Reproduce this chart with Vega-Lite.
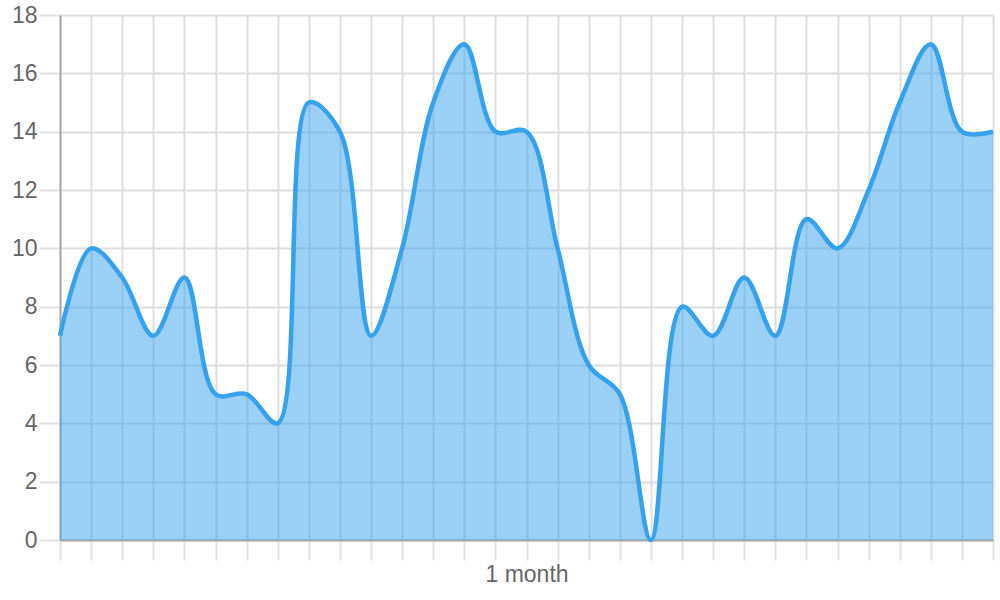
{
  "$schema": "https://vega.github.io/schema/vega-lite/v6.json",
  "width": 933,
  "height": 525,
  "autosize": {"type": "none"},
  "padding": {"left": 60, "top": 15, "right": 7, "bottom": 60},
  "background": "white",
  "config": {"view": {"stroke": null}},
  "data": {"values": [
    {"i": 0, "v": 7}, {"i": 1, "v": 10}, {"i": 2, "v": 9}, {"i": 3, "v": 7}, {"i": 4, "v": 9},
    {"i": 5, "v": 5}, {"i": 6, "v": 5}, {"i": 7, "v": 4}, {"i": 8, "v": 15}, {"i": 9, "v": 14},
    {"i": 10, "v": 7}, {"i": 11, "v": 10}, {"i": 12, "v": 15}, {"i": 13, "v": 17}, {"i": 14, "v": 14},
    {"i": 15, "v": 14}, {"i": 16, "v": 10}, {"i": 17, "v": 6}, {"i": 18, "v": 5}, {"i": 19, "v": 0},
    {"i": 20, "v": 8}, {"i": 21, "v": 7}, {"i": 22, "v": 9}, {"i": 23, "v": 7}, {"i": 24, "v": 11},
    {"i": 25, "v": 10}, {"i": 26, "v": 12}, {"i": 27, "v": 15}, {"i": 28, "v": 17}, {"i": 29, "v": 14},
    {"i": 30, "v": 14}
  ]},
  "encoding": {
    "x": {
      "field": "i", "type": "quantitative",
      "scale": {"domain": [0, 30], "nice": false, "zero": false},
      "axis": {
        "values": [0,1,2,3,4,5,6,7,8,9,10,11,12,13,14,15,16,17,18,19,20,21,22,23,24,25,26,27,28,29,30],
        "labelExpr": "datum.value == 15 ? '1 month' : ''",
        "title": null,
        "grid": true, "gridColor": "#dedede", "gridWidth": 2,
        "tickSize": 20, "tickColor": "#e2e2e2", "tickWidth": 2,
        "domainColor": "#aaaaaa", "domainWidth": 2,
        "labelFont": "Liberation Sans", "labelFontSize": 23, "labelColor": "#666666",
        "labelPadding": 3, "labelOverlap": false, "labelFlush": false
      }
    },
    "y": {
      "field": "v", "type": "quantitative",
      "scale": {"domain": [0, 18], "nice": false},
      "axis": {
        "values": [0, 2, 4, 6, 8, 10, 12, 14, 16, 18],
        "title": null,
        "grid": true, "gridColor": "#dedede", "gridWidth": 2,
        "tickSize": 21, "tickColor": "#e2e2e2", "tickWidth": 2,
        "domainColor": "#aaaaaa", "domainWidth": 2,
        "labelFont": "Liberation Sans", "labelFontSize": 23, "labelColor": "#666666",
        "labelPadding": 2
      }
    }
  },
  "layer": [
    {"mark": {"type": "area", "interpolate": "catmull-rom", "color": "#36A2EB", "fillOpacity": 0.5}},
    {"mark": {"type": "line", "interpolate": "catmull-rom", "color": "#36A2EB", "strokeWidth": 4.5}}
  ]
}
